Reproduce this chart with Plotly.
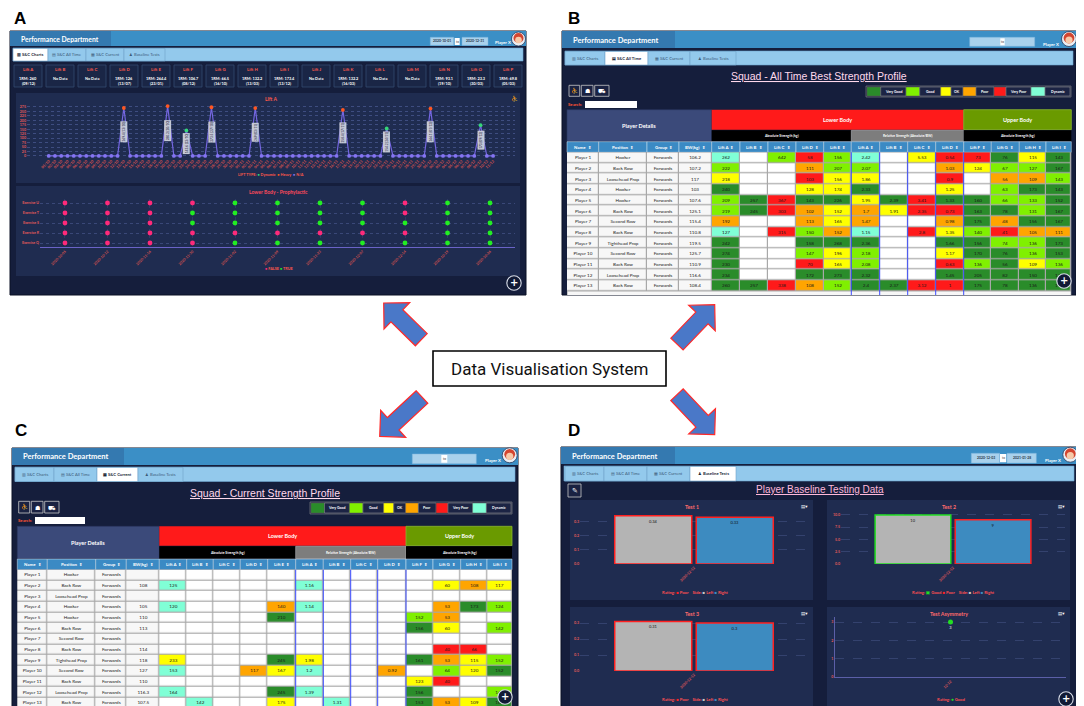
import math
import plotly.graph_objects as go

W, H = 1084, 706
UI = "Lato, 'Open Sans', sans-serif"
NARROW = "'Liberation Sans Narrow', 'Liberation Sans', sans-serif"

# ------------------------------------------------------------------ data
tab_names = ["S&C Charts", "S&C All Time", "S&C Current", "Baseline Tests"]
tab_icons = ["▥", "▤", "▦", "♟"]

lift_box_names = ["Lift A", "Lift B", "Lift C", "Lift D", "Lift E", "Lift F", "Lift G", "Lift H",
                  "Lift I", "Lift J", "Lift K", "Lift L", "Lift M", "Lift N", "Lift O", "Lift P"]
lift_box_1rm = ["1RM: 260", "No Data", "No Data", "1RM: 126", "1RM: 264.4", "1RM: 106.7", "1RM: 66.5",
                "1RM: 132.2", "1RM: 173.4", "No Data", "1RM: 132.2", "No Data", "No Data", "1RM: 93.1",
                "1RM: 23.3", "1RM: 69.8"]
lift_box_dates = ["(09/12)", "", "", "(13/07)", "(23/01)", "(08/12)", "(16/10)", "(13/03)", "(13/12)", "",
                  "(16/03)", "", "", "(19/10)", "(30/03)", "(05/03)"]

lift_a_dates = [
    "01/10", "02/10", "03/10", "04/10", "05/10", "06/10", "07/10", "08/10", "09/10", "10/10",
    "11/10", "12/10", "13/10", "14/10", "15/10", "16/10", "17/10", "18/10", "19/10", "20/10",
    "21/10", "22/10", "23/10", "24/10", "25/10", "26/10", "27/10", "28/10", "29/10", "30/10",
    "31/10", "01/11", "02/11", "03/11", "04/11", "05/11", "06/11", "07/11", "08/11", "09/11",
    "10/11", "11/11", "12/11", "13/11", "14/11", "15/11", "16/11", "17/11", "18/11", "19/11",
    "20/11", "21/11", "22/11", "23/11", "24/11", "25/11", "26/11", "27/11", "28/11", "29/11",
    "30/11", "01/12", "02/12", "03/12", "04/12", "05/12", "06/12", "07/12", "08/12", "09/12",
    "10/12", "11/12"]
lift_a_values = [0, 0, 0, 0, 0, 0, 0, 0, 0, 0, 0, 0, 269.4, 0, 0, 0, 0, 0, 0, 280.2, 0, 0, 143.6,
                 0, 0, 0, 273.5, 0, 0, 0, 0, 0, 0, 269, 0, 0, 0, 0, 0, 0, 0, 0, 0, 0, 0, 0, 0, 258.4,
                 0, 0, 0, 0, 0, 0, 154.2, 0, 0, 0, 0, 0, 0, 266.1, 0, 0, 0, 0, 0, 0, 0, 173, 0, 0]
lift_a_types = list("NNNNNNNNNNNN" "H" "NNNNNN" "H" "NN" "D" "NNN" "H" "NNNNNN" "H"
                    "NNNNNNNNNNNNN" "H" "NNNNNN" "D" "NNNNNN" "H" "NNNNNNN" "D" "NN")
lift_a_yticks = [0, 25, 50, 75, 100, 125, 150, 175, 200, 225, 250, 275]

prophy_dates = ["2020-10-05", "2020-10-12", "2020-10-19", "2020-10-26", "2020-11-02", "2020-11-09",
                "2020-11-16", "2020-11-23", "2020-11-30", "2020-12-07", "2020-12-14"]
exercises = ["Exercise Q", "Exercise R", "Exercise S", "Exercise T", "Exercise U"]
ex_q = [False, False, True, True, True, True, False, True, False, True, True]
ex_r = [False, False, True, True, False, False, False, False, False, False, False]
ex_s = [False, False, True, True, True, True, False, True, True, True, True]
ex_t = [False, False, True, True, True, True, False, True, True, True, False]
ex_u = [False, False, True, True, True, True, False, True, False, True, False]

rating_names = ["Very Good", "Good", "OK", "Poor", "Very Poor", "Dynamic"]
rating_codes = ["VG", "G", "OK", "P", "VP", "D"]

table_headers = ["Name", "Position", "Group", "BW(kg)", "Lift A", "Lift B", "Lift C", "Lift D", "Lift E",
                 "Lift A", "Lift B", "Lift C", "Lift D", "Lift F", "Lift G", "Lift H", "Lift I"]
squad_names = ["Player 1", "Player 2", "Player 3", "Player 4", "Player 5", "Player 6", "Player 7",
               "Player 8", "Player 9", "Player 10", "Player 11", "Player 12", "Player 13"]
squad_positions = ["Hooker", "Back Row", "Loosehead Prop", "Hooker", "Hooker", "Back Row", "Second Row",
                   "Back Row", "Tighthead Prop", "Second Row", "Back Row", "Loosehead Prop", "Back Row"]
squad_groups = ["Forwards"] * 13

b_bw = ["106.2", "107.2", "117", "103", "107.6", "125.1", "115.4", "110.8", "119.5", "125.7", "110.9",
        "116.6", "108.4"]
b_vals = [
    ["262", "", "642", "58", "156", "2.42", "", "5.53", "0.54", "73", "76", "115", "143"],
    ["222", "", "", "111", "207", "2.07", "", "", "1.03", "124", "67", "127", "167"],
    ["218", "", "", "103", "156", "1.86", "", "", "0.9", "", "56", "109", "143"],
    ["240", "", "", "128", "174", "2.33", "", "", "1.25", "", "63", "173", "143"],
    ["209", "257", "367", "143", "226", "1.95", "2.39", "3.41", "1.33", "160", "66", "133", "152"],
    ["219", "245", "303", "102", "152", "1.7", "1.91", "2.35", "0.73", "163", "78", "131", "167"],
    ["192", "", "", "113", "165", "1.47", "", "", "0.98", "175", "48", "156", "167"],
    ["127", "", "315", "150", "152", "1.15", "", "2.8", "1.35", "140", "41", "105", "111"],
    ["242", "", "", "158", "268", "2.36", "", "", "1.66", "156", "74", "136", "173"],
    ["274", "", "", "147", "196", "2.18", "", "", "1.17", "170", "76", "136", "153"],
    ["230", "", "", "70", "165", "2.08", "", "", "0.63", "136", "56", "109", "136"],
    ["234", "", "", "172", "273", "2.32", "", "", "1.45", "205", "82", "150", "173"],
    ["260", "257", "338", "108", "152", "2.4", "2.37", "3.12", "1", "175", "78", "136", "173"],
]
b_rate = [
    ["D", "", "G", "VP", "G", "D", "", "OK", "VP", "VP", "VG", "OK", "VG"],
    ["G", "", "", "P", "G", "G", "", "", "P", "OK", "G", "G", "VG"],
    ["OK", "", "", "VP", "OK", "OK", "", "", "VP", "", "P", "P", "G"],
    ["VG", "", "", "OK", "OK", "VG", "", "", "OK", "", "G", "VG", "VG"],
    ["G", "VG", "VP", "VG", "VG", "OK", "VG", "VP", "VG", "VG", "G", "G", "VG"],
    ["G", "VG", "VP", "P", "OK", "P", "OK", "VP", "VP", "VG", "VG", "G", "VG"],
    ["P", "", "", "P", "OK", "P", "", "", "P", "VG", "P", "VG", "VG"],
    ["D", "", "VP", "G", "P", "D", "", "VP", "OK", "G", "VP", "P", "P"],
    ["VG", "", "", "VG", "VG", "VG", "", "", "VG", "VG", "G", "G", "VG"],
    ["VG", "", "", "G", "OK", "G", "", "", "OK", "VG", "VG", "G", "VG"],
    ["VG", "", "", "VP", "OK", "G", "", "", "VP", "G", "VG", "OK", "G"],
    ["VG", "", "", "VG", "VG", "VG", "", "", "VG", "VG", "VG", "VG", "VG"],
    ["VG", "VG", "VP", "P", "G", "VG", "VG", "VP", "VP", "VG", "VG", "VG", "VG"],
]

c_bw = ["", "108", "", "105", "110", "113", "", "114", "118", "127", "110", "116.3", "107.5"]
c_vals = [
    [""] * 13,
    ["125", "", "", "", "", "1.16", "", "", "", "", "60", "108", "117"],
    [""] * 13,
    ["120", "", "", "", "140", "1.14", "", "", "", "", "53", "173", "124"],
    ["", "", "", "", "210", "", "", "", "", "152", "53", "", ""],
    ["", "", "", "", "", "", "", "", "", "156", "60", "", "142"],
    [""] * 13,
    ["", "", "", "", "", "", "", "", "", "", "40", "66", ""],
    ["233", "", "", "", "245", "1.98", "", "", "", "161", "53", "115", "152"],
    ["153", "", "", "117", "167", "1.2", "", "", "0.92", "", "64", "120", "152"],
    ["", "", "", "", "", "", "", "", "", "123", "40", "", ""],
    ["164", "", "", "", "245", "1.39", "", "", "", "156", "", "", "142"],
    ["", "142", "", "", "175", "", "1.31", "", "", "153", "53", "109", "160"],
]
c_rate = [
    [""] * 13,
    ["D", "", "", "", "", "D", "", "", "", "", "OK", "P", "OK"],
    [""] * 13,
    ["D", "", "", "", "P", "D", "", "", "", "", "P", "VG", "G"],
    ["", "", "", "", "VG", "", "", "", "", "G", "P", "", ""],
    ["", "", "", "", "", "", "", "", "", "VG", "OK", "", "G"],
    [""] * 13,
    ["", "", "", "", "", "", "", "", "", "", "VP", "VP", ""],
    ["OK", "", "", "", "VG", "OK", "", "", "", "VG", "P", "OK", "G"],
    ["D", "", "", "P", "OK", "D", "", "", "P", "", "G", "OK", "VG"],
    ["", "", "", "", "", "", "", "", "", "OK", "VP", "", ""],
    ["D", "", "", "", "VG", "D", "", "", "", "VG", "", "", "G"],
    ["", "D", "", "", "OK", "", "D", "", "", "VG", "P", "OK", "VG"],
]

test_dates = ["2020-12-12"]
test1_left, test1_right = [0.34], [0.33]
test1_left_rating, test1_right_rating = ["Poor"], ["Poor"]
test2_left, test2_right = [10], [9]
test2_left_rating, test2_right_rating = ["Good"], ["Poor"]
test3_left, test3_right = [0.31], [0.3]
test3_left_rating, test3_right_rating = ["Poor"], ["Poor"]
asym_dates = ["12-12"]
asym_values = [3]
asym_rating = ["Good"]

# ------------------------------------------------------------------ styles
NAVY = "#151e3c"
SUB = "#1f2c50"
RED_TXT = "#ff5a4a"
RATING_COLORS = {"VG": "#2a8c2a", "G": "#80f000", "OK": "#ffff00", "P": "#ffa500",
                 "VP": "#ff1a1a", "D": "#80ffd6"}
OUTLINE = {"Poor": "#ff2020", "Good": "#22dd22"}
TYPE_COLORS = {"N": "#8475f2", "H": "#ff5722", "D": "#36d67a"}
ROW_H = 10.67

shapes, anns = [], []


def X(x):
    return x / W


def Y(y):
    return 1 - y / H


def rect(x0, y0, x1, y1, fill, line=None, lw=0):
    shapes.append(dict(type="rect", xref="paper", yref="paper", x0=X(x0), x1=X(x1), y0=Y(y1), y1=Y(y0),
                       fillcolor=fill, line=dict(color=line or "rgba(0,0,0,0)", width=lw), layer="below"))


def vline(x, y0, y1, color, lw):
    shapes.append(dict(type="line", xref="paper", yref="paper", x0=X(x), x1=X(x), y0=Y(y1), y1=Y(y0),
                       line=dict(color=color, width=lw), layer="above"))


def circ(cx, cy, r, fill, line=None, lw=0, layer="below"):
    shapes.append(dict(type="circle", xref="paper", yref="paper", x0=X(cx - r), x1=X(cx + r),
                       y0=Y(cy + r), y1=Y(cy - r), fillcolor=fill,
                       line=dict(color=line or "rgba(0,0,0,0)", width=lw), layer=layer))


def txt(x, y, s, size, color, bold=False, xa="center", ya="middle", family=UI, angle=0, under=False):
    if under:
        s = "<u>" + s + "</u>"
    if bold:
        s = "<b>" + s + "</b>"
    anns.append(dict(xref="paper", yref="paper", x=X(x), y=Y(y), text=s, showarrow=False, xanchor=xa,
                     yanchor=ya, textangle=angle, borderpad=0,
                     font=dict(size=size, color=color, family=family)))


def arrow(tip, tail, hw=8.5, hl=18.4):
    dx, dy = tip[0] - tail[0], tip[1] - tail[1]
    L = math.hypot(dx, dy)
    ux, uy = dx / L, dy / L
    nx, ny = -uy, ux
    bx, by = tip[0] - ux * hl, tip[1] - uy * hl
    pts = [(tail[0] + nx * hw, tail[1] + ny * hw), (bx + nx * hw, by + ny * hw), (bx + nx * hl, by + ny * hl),
           tip, (bx - nx * hl, by - ny * hl), (bx - nx * hw, by - ny * hw), (tail[0] - nx * hw, tail[1] - ny * hw)]
    path = "M " + " L ".join(f"{X(px):.5f},{Y(py):.5f}" for px, py in pts) + " Z"
    shapes.append(dict(type="path", xref="paper", yref="paper", path=path, fillcolor="#4a78c8",
                       line=dict(color="#ff2a2a", width=1.2), layer="below"))


def chrome(x0, y0, x1, y1, hy1, lx1, ty0, ty1, tab_x, active, hsize):
    rect(x0, y0, x1, y1, NAVY, "#0a1024", 1)
    rect(x0, y0, x1, hy1, "#3b8fc6")
    rect(x0, y0, lx1, hy1, "#3479b0")
    txt(x0 + 10, (y0 + hy1) / 2 + 0.5, "Performance Department", hsize, "white", bold=True, xa="left")
    rect(x0 + 3, ty0, x1 - 3, ty1, "#93c9ec", "#6da6d2", 0.6)
    for i, name in enumerate(tab_names):
        on = i == active
        rect(tab_x[i], ty0 + 0.5, tab_x[i + 1], ty1, "#ffffff" if on else "#93c9ec", "#6fa3c9", 0.6)
        txt((tab_x[i] + tab_x[i + 1]) / 2, (ty0 + ty1) / 2 + 0.3, tab_icons[i] + " " + name, 4.2,
            "#1e2a3a" if on else "#3c5a78", bold=on)


def user(tx, ty, cx, cy, r=7.5):
    txt(tx, ty, "Player X", 4.3, "white", bold=True)
    circ(cx, cy, r, "#e8eef5", "#2a3a5a", 0.8)
    circ(cx, cy - 1, r * 0.72, "#d4452f")
    circ(cx, cy + 1, r * 0.48, "#f6c9a8")


def date_box(x0, x1, y0, y1, label):
    rect(x0, y0, x1, y1, "#a9d1ec", "#7fb4dc", 0.5)
    if label:
        txt((x0 + x1) / 2, (y0 + y1) / 2, label, 3.4, "#2a3a4a", bold=True)


def to_box(x0, x1, y0, y1):
    rect(x0, y0, x1, y1, "#ffffff")
    txt((x0 + x1) / 2, (y0 + y1) / 2, "to", 3.2, "#333333")


def plus(cx, cy):
    circ(cx, cy, 7.2, "#111a35", "#d8dde8", 1.1, layer="above")
    txt(cx, cy - 0.3, "+", 10, "white", bold=True, family="DejaVu Sans")


def rating_legend(edges, y0, y1):
    rect(edges[0] - 1, y0 - 1, edges[-1] + 1, y1 + 1, "#1a2242", "#8a8a8a", 0.6)
    for k, (code, name) in enumerate(zip(rating_codes, rating_names)):
        rect(edges[2 * k], y0, edges[2 * k + 1], y1, RATING_COLORS[code], "#555555", 0.5)
        rect(edges[2 * k + 1], y0, edges[2 * k + 2], y1, "#1c2444", "#9a9a9a", 0.5)
        txt((edges[2 * k + 1] + edges[2 * k + 2]) / 2, (y0 + y1) / 2, name, 3.5, "white", bold=True)


def tool_buttons(xs, y0, y1):
    icons = ["⛹", "☗", "⛟"]
    for (a, b), ic in zip(xs, icons):
        rect(a, y0, b, y1, "#1a2242", "#c8c8c8", 0.8)
        txt((a + b) / 2, (y0 + y1) / 2, ic, 6, "white", family="DejaVu Sans")


def table_heads(e, top, mid, sub, bot, hbot):
    rect(e[0], top, e[4], bot, "#3b4a7a", "#2a3560", 0.6)
    txt((e[0] + e[4]) / 2, (top + bot) / 2, "Player Details", 5.5, "white", bold=True)
    rect(e[4], top, e[13], mid, "#ff1a1a")
    txt((e[4] + e[13]) / 2, (top + mid) / 2, "Lower Body", 5.5, "white", bold=True)
    rect(e[13], top, e[17], mid, "#6a9a00", "#8cb830", 0.8)
    txt((e[13] + e[17]) / 2, (top + mid) / 2, "Upper Body", 5.5, "white", bold=True)
    rect(e[4], sub, e[9], bot, "#000000")
    txt((e[4] + e[9]) / 2, (sub + bot) / 2, "Absolute Strength (kg)", 3.4, "white", bold=True)
    rect(e[9], sub, e[13], bot, "#7d7d7d", "#b0b0b0", 0.6)
    txt((e[9] + e[13]) / 2, (sub + bot) / 2, "Relative Strength (Absolute/BW)", 3.4, "white", bold=True)
    rect(e[13], sub, e[17], bot, "#000000")
    txt((e[13] + e[17]) / 2, (sub + bot) / 2, "Absolute Strength (kg)", 3.4, "white", bold=True)
    for j, name in enumerate(table_headers):
        rect(e[j], bot + 0.4, e[j + 1], hbot, "#3b8ac4", "#d8e8f5", 0.5)
        txt((e[j] + e[j + 1]) / 2, (bot + hbot) / 2 + 0.3, name + "  ⇕", 4.4, "white", bold=True)


CELL_CODES = ["name", "empty"] + rating_codes
CELL_COLORS = ["#f7f7f7", "#ffffff"] + [RATING_COLORS[c] for c in rating_codes]
CELL_SCALE = []
for k, col in enumerate(CELL_COLORS):
    CELL_SCALE += [[k / len(CELL_COLORS), col], [(k + 1) / len(CELL_COLORS), col]]


def squad_heatmap(xa, ya, widths, bw, vals, rates):
    xe = [0]
    for w in widths:
        xe.append(xe[-1] + w)
    z, text = [], []
    for r in range(len(squad_names)):
        z.append([0, 0, 0, 0] + [CELL_CODES.index(c) if c else 1 for c in rates[r]])
        text.append([squad_names[r], squad_positions[r], squad_groups[r], bw[r]] + vals[r])
    return go.Heatmap(x=xe, y=list(range(len(squad_names) + 1)), z=z, text=text, texttemplate="%{text}",
                      textfont=dict(size=4.6, color="#1a1a1a", family=UI), colorscale=CELL_SCALE,
                      zmin=-0.5, zmax=len(CELL_COLORS) - 0.5, showscale=False, xgap=1.2, ygap=1.2,
                      xaxis=xa, yaxis=ya, hoverinfo="skip")


fig = go.Figure()

# ------------------------------------------------------------------ central figure parts
txt(12, 10, "A", 17, "black", bold=True, family="Liberation Sans")
txt(565.5, 10, "B", 17, "black", bold=True, family="Liberation Sans")
txt(13, 422, "C", 17, "black", bold=True, family="Liberation Sans")
txt(566, 422, "D", 17, "black", bold=True, family="Liberation Sans")
rect(425, 343, 658, 378, "#ffffff", "#000000", 1.6)
txt(541.5, 361, "Data Visualisation System", 17, "#111111", family="Roboto")
arrow((375.7, 295), (413.3, 331.7))
arrow((706.7, 296.7), (669, 336))
arrow((371.7, 428.3), (414, 389))
arrow((706.7, 426.7), (669, 386.7))

# ------------------------------------------------------------------ panel A
chrome(2, 23, 518, 287, 38, 103, 40, 53, [5, 40, 78, 116, 157], 0, 6.8)
date_box(422.3, 445.7, 29.3, 37.3, "2020-10-01")
to_box(446.7, 451.7, 30, 37)
date_box(454, 480, 29.3, 37.3, "2020-12-31")
user(494.5, 34.7, 510.5, 31, 7)
for i, name in enumerate(lift_box_names):
    bx = 6 + 32 * i
    rect(bx, 57, bx + 28, 79, "#1a2646", "#34496e", 0.8)
    txt(bx + 14, 61, name, 4.3, RED_TXT, bold=True)
    txt(bx + 14, 70.5, lift_box_1rm[i], 3.9, "white", bold=True)
    if lift_box_dates[i]:
        txt(bx + 14, 75.2, lift_box_dates[i], 3.9, "white", bold=True)
rect(8, 85, 512, 175, SUB)
txt(263, 91, "Lift A", 5, RED_TXT, bold=True)
txt(506, 91, "⛹", 6, "#ffb347", family="DejaVu Sans")
legend_a = ("LIFT TYPE: " + "".join(f"<span style='color:{TYPE_COLORS[c]}'>●</span> {n}  "
                                     for c, n in [("D", "Dynamic"), ("H", "Heavy"), ("N", "N/A")]))
txt(263, 166.7, legend_a.strip(), 3.8, RED_TXT, bold=True)
rect(8, 178, 512, 268, SUB)
txt(270, 184, "Lower Body - Prophylactic", 5, "#ff4a5a", bold=True)
txt(271, 260, "<span style='color:#ff2a7a'>●</span> FALSE <span style='color:#22ee22'>●</span> TRUE",
    3.8, RED_TXT, bold=True)
plus(506, 275)

fig.add_trace(go.Scatter(x=lift_a_dates, y=lift_a_values, mode="lines", line=dict(color="#7466e0", width=1.2),
                         xaxis="x", yaxis="y", hoverinfo="skip"))
for code in ["N", "D", "H"]:
    xs = [d for d, t in zip(lift_a_dates, lift_a_types) if t == code]
    ys = [v for v, t in zip(lift_a_values, lift_a_types) if t == code]
    fig.add_trace(go.Scatter(x=xs, y=ys, mode="markers", marker=dict(color=TYPE_COLORS[code], size=3.8),
                             xaxis="x", yaxis="y", cliponaxis=False))
for d, v in zip(lift_a_dates, lift_a_values):
    if v > 0:
        anns.append(dict(xref="x", yref="y", x=d, y=v / 2, text=f"{v:g} ({d})", showarrow=False, textangle=-90,
                         yanchor="middle", xanchor="center", bgcolor="#c4c8d6", borderpad=0.3,
                         font=dict(size=3.2, color="#1a1a3a", family=UI)))

ex_rows = [ex_q, ex_r, ex_s, ex_t, ex_u]
for state, color in [(False, "#ff2a7a"), (True, "#22ee22")]:
    xs, ys = [], []
    for ex, row in zip(exercises, ex_rows):
        for d, s in zip(prophy_dates, row):
            if s == state:
                xs.append(d)
                ys.append(ex)
    fig.add_trace(go.Scatter(x=xs, y=ys, mode="markers", marker=dict(color=color, size=4.8),
                             xaxis="x2", yaxis="y2", cliponaxis=False))

# ------------------------------------------------------------------ panel B
chrome(554, 23, 1068, 287, 40, 667, 43, 57, [557, 597, 640, 682, 728], 1, 7.5)
date_box(961.7, 1026.7, 29.3, 38.3, "")
to_box(992.3, 996.7, 30.3, 37.3)
user(1043, 36.3, 1061, 31)
txt(811, 68, "Squad - All Time Best Strength Profile", 10.5, "#ffd9ec", under=True, family=NARROW)
tool_buttons([(561, 571.7), (573.3, 585), (586.7, 601)], 77.3, 88.3)
rating_legend([859, 872.7, 898, 911.7, 932.7, 943, 955, 968, 986, 998, 1023, 1037, 1062], 79, 88)
txt(559, 96.5, "Search:", 4.3, "#ff5533", bold=True, xa="left")
rect(577, 93, 629, 100, "#ffffff")
b_edges = [559, 590.7, 639, 671, 703.7, 732, 760, 788, 815.7, 843.3, 871.7, 899.7, 927.7, 955.7, 983.3,
           1011.3, 1038, 1063.3]
table_heads(b_edges, 101.7, 121.7, 122.3, 133.3, 144.3)
B_TOP = 144.3
B_BOT = B_TOP + ROW_H * len(squad_names)
rect(b_edges[0], B_TOP, b_edges[-1], 287, "#a8a8a8")
rect(b_edges[0] + 0.6, B_BOT + 0.6, b_edges[-1] - 0.6, 287, "#f7f7f7")
fig.add_trace(squad_heatmap("x7", "y7", [b_edges[i + 1] - b_edges[i] for i in range(17)], b_bw, b_vals, b_rate))
for j in range(9, 14):
    vline(b_edges[j], B_TOP, 287, "#3c4cff", 1)
plus(1056, 273)

# ------------------------------------------------------------------ panel C
chrome(4, 440, 510, 703, 457, 116, 459, 473.5, [7, 46, 89, 130, 175], 2, 7.5)
date_box(404.3, 468.3, 446, 455.7, "")
to_box(433.3, 439.3, 447, 454.7)
user(484.7, 452.7, 501.7, 447.3)
txt(257, 485, "Squad - Current Strength Profile", 10.5, "#ffd9ec", under=True, family=NARROW)
tool_buttons([(10.7, 21.7), (23.3, 35), (36.7, 51)], 493.3, 505)
c_leg = [303 + (e - 859) * 200 / 203 for e in [859, 872.7, 898, 911.7, 932.7, 943, 955, 968, 986, 998, 1023,
                                               1037, 1062]]
rating_legend(c_leg, 495, 505)
txt(9, 512.5, "Search:", 4.3, "#ff5533", bold=True, xa="left")
rect(27, 509, 77, 516, "#ffffff")
c_edges = [9.3, 39.3, 87.7, 118.3, 151.3, 178.7, 205.3, 232.3, 259.7, 287.7, 315.3, 342.7, 369.7, 398, 425,
           452.7, 479, 504]
table_heads(c_edges, 518.3, 537.7, 538.3, 550.7, 561.7)
C_TOP = 561.7
C_BOT = C_TOP + ROW_H * len(squad_names)
rect(c_edges[0], C_TOP, c_edges[-1], 703, "#a8a8a8")
rect(c_edges[0] + 0.6, C_BOT + 0.6, c_edges[-1] - 0.6, 703, "#f7f7f7")
fig.add_trace(squad_heatmap("x8", "y8", [c_edges[i + 1] - c_edges[i] for i in range(17)], c_bw, c_vals, c_rate))
for j in range(9, 14):
    vline(c_edges[j], C_TOP, 703, "#3c4cff", 1)
plus(497, 689)

# ------------------------------------------------------------------ panel D
chrome(553, 439, 1069, 703, 456, 667, 458, 473, [557, 596, 639, 682, 728], 3, 7.5)
date_box(963.3, 991.7, 445.3, 455, "2020-12-03")
to_box(992, 998.3, 446, 454.3)
date_box(999, 1028.3, 445.3, 455, "2021-01-28")
user(1044.7, 452, 1062.3, 446.7)
rect(560, 476, 573, 489, "#1a2242", "#c8c8c8", 0.8)
txt(566.5, 482.5, "✎", 7, "white", family="DejaVu Sans")
txt(812, 481, "Player Baseline Testing Data", 10, "#ffb8da", under=True, family=NARROW)
panels_d = [(562, 492, 805, 592, "Test 1"), (819, 492, 1062, 592, "Test 2"),
            (562, 599, 805, 700, "Test 3"), (819, 599, 1062, 700, "Test Asymmetry")]
for x0, y0, x1, y1, title in panels_d:
    rect(x0, y0, x1, y1, SUB)
    txt((x0 + x1) / 2, y0 + 7, title, 5.3, "#ff6b6b", bold=True)
    txt(x1 - 9, y0 + 6, "▤▾", 4.5, "white", family="DejaVu Sans")

sq = lambda c, g="■": f"<span style='color:{c}'>{g}</span>"
side_txt = f"Side: {sq('#c8c8c8')} Left {sq('#3d8bc0')} Right"
txt(687, 584, f"Rating: {sq('#ff2020')} Poor    " + side_txt, 4.2, "#ff5050", bold=True)
txt(945, 584, f"Rating: {sq('#22dd22', '▣')} Good {sq('#ff2020')} Poor    " + side_txt, 4.2, "#ff5050", bold=True)
txt(687, 691, f"Rating: {sq('#ff2020')} Poor    " + side_txt, 4.2, "#ff5050", bold=True)
txt(943, 691, f"Rating: {sq('#22dd22', '●')} Good", 4.2, "#ff5050", bold=True)
plus(1058, 691)

for (xa, ya, left, right, lr, rr) in [("x3", "y3", test1_left, test1_right, test1_left_rating, test1_right_rating),
                                      ("x4", "y4", test2_left, test2_right, test2_left_rating, test2_right_rating),
                                      ("x5", "y5", test3_left, test3_right, test3_left_rating, test3_right_rating)]:
    for vals, rat, col, nm in [(left, lr, "#b4b4b4", "Left"), (right, rr, "#3d8bc0", "Right")]:
        fig.add_trace(go.Bar(x=test_dates, y=vals, name=nm, xaxis=xa, yaxis=ya,
                             marker=dict(color=col, line=dict(color=[OUTLINE[r] for r in rat], width=1.5)),
                             text=[f"{v:g}" for v in vals], textposition="inside", insidetextanchor="end",
                             textangle=0, textfont=dict(size=4, color="#111111", family=UI)))
fig.add_trace(go.Scatter(x=asym_dates, y=asym_values, mode="markers+text", text=[f"{v:g}" for v in asym_values],
                         textposition="bottom center", textfont=dict(size=4, color="white"),
                         marker=dict(color=[OUTLINE[r] for r in asym_rating], size=5),
                         xaxis="x6", yaxis="y6", cliponaxis=False))


# ------------------------------------------------------------------ axes
def ax(x0, x1, **kw):
    d = dict(domain=[x0, x1], automargin=False, zeroline=False, showgrid=False, showline=False, ticks="",
             fixedrange=True, tickfont=dict(size=3.6, color="#e05a5a", family=UI, weight="bold"))
    d.update(kw)
    return d


tick_red = dict(size=3.6, color="#e05a5a", family=UI, weight="bold")
b_total = b_edges[-1] - b_edges[0]
c_total = c_edges[-1] - c_edges[0]
layout_axes = dict(
    xaxis=ax(X(19), X(507), anchor="y", type="category", range=[-3.47, 74.5], tickangle=-45,
             tickmode="linear", tick0=0, dtick=1, tickfont=dict(size=3.7, color="#d9534f", family=UI,
                                                               weight="bold")),
    yaxis=ax(Y(149.4), Y(97.2), anchor="x", range=[-8, 285], tickvals=lift_a_yticks, showgrid=True,
             gridcolor="#3e4d80", griddash="dot", gridwidth=0.8, tickfont=tick_red),
    xaxis2=ax(X(32), X(507), anchor="y2", type="category", range=[-0.588, 10.588], tickangle=-45,
              showline=True, linecolor="#6a63c7", linewidth=1, showgrid=True, gridcolor="#2c3a64",
              griddash="dot", tickfont=dict(size=3.6, color="#d9534f", family=UI, weight="bold")),
    yaxis2=ax(Y(239), Y(191), anchor="x2", type="category", categoryorder="array", categoryarray=exercises,
              range=[-0.4, 4.4], showgrid=True, gridcolor="#3a4878", griddash="dot",
              tickfont=dict(size=3.6, color="#e05a5a", family=UI, weight="bold")),
    xaxis3=ax(X(572), X(800), anchor="y3", type="category", tickangle=-45),
    yaxis3=ax(Y(556), Y(505), anchor="x3", range=[0, 0.36], tickvals=[0, 0.1, 0.2, 0.3], tickformat=".1f",
              showgrid=True, gridcolor="#34426e", griddash="dash"),
    xaxis4=ax(X(833), X(1057), anchor="y4", type="category", tickangle=-45),
    yaxis4=ax(Y(556), Y(504.5), anchor="x4", range=[0, 10.5], tickvals=[0, 2.5, 5, 7.5, 10], tickformat=".1f",
              showgrid=True, gridcolor="#34426e", griddash="dash"),
    xaxis5=ax(X(572), X(800), anchor="y5", type="category", tickangle=-45),
    yaxis5=ax(Y(663), Y(605.4), anchor="x5", range=[0, 0.36], tickvals=[0, 0.1, 0.2, 0.3], tickformat=".1f",
              showgrid=True, gridcolor="#34426e", griddash="dash"),
    xaxis6=ax(X(827), X(1058), anchor="y6", type="category", tickangle=-45, showline=True,
              linecolor="#5b5fa8", linewidth=1),
    yaxis6=ax(Y(669), Y(608.5), anchor="x6", range=[0, 3.3], tickvals=[0, 1, 2, 3], showline=True,
              linecolor="#5b5fa8", linewidth=1, showgrid=True, gridcolor="#34426e", griddash="dash"),
    xaxis7=ax(X(b_edges[0]), X(b_edges[-1]), anchor="y7", range=[0, b_total], showticklabels=False),
    yaxis7=ax(Y(B_BOT), Y(B_TOP), anchor="x7", range=[len(squad_names), 0], showticklabels=False),
    xaxis8=ax(X(c_edges[0]), X(c_edges[-1]), anchor="y8", range=[0, c_total], showticklabels=False),
    yaxis8=ax(Y(C_BOT), Y(C_TOP), anchor="x8", range=[len(squad_names), 0], showticklabels=False),
)

fig.update_layout(width=W, height=H, margin=dict(l=0, r=0, t=0, b=0), paper_bgcolor="white",
                  plot_bgcolor="rgba(0,0,0,0)", showlegend=False, barmode="group", bargap=0.285,
                  bargroupgap=0.055, shapes=shapes, annotations=anns, font=dict(family=UI),
                  **layout_axes)
fig.write_html("out.html")
